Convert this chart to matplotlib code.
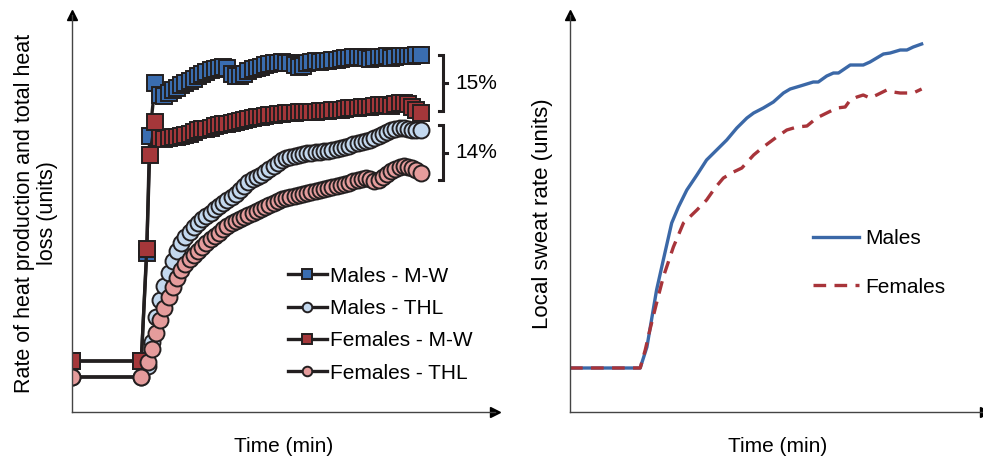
import matplotlib
matplotlib.use("Agg")
import matplotlib.pyplot as plt

plt.rcParams['font.family'] = ['Liberation Sans', 'DejaVu Sans']

# ---- left panel: heat production (M-W) and total heat loss (THL) ----
mw_time = [0, 16.5, 17.8, 18.5, 19.8, *range(21, 84)]
males_mw = [51, 51, 159, 276, 329,
            317, 316, 319, 322, 324, 327, 329, 331, 333, 336,
            338, 340, 342, 343, 344, 345, 344, 338, 336, 336,
            338, 341, 343, 344, 345, 347, 348, 349, 349, 350,
            349, 349, 347, 345, 346, 349, 350, 351, 350, 351,
            351, 352, 352, 353, 354, 354, 355, 355, 355, 354,
            353, 354, 355, 355, 356, 354, 355, 356, 356, 356,
            356, 357, 357]
females_mw = [51, 51, 163, 257, 290,
              274, 273, 274, 275, 275, 276, 277, 278, 280, 282,
              283, 283, 284, 286, 287, 288, 288, 289, 290, 291,
              292, 293, 294, 295, 295, 296, 297, 297, 298, 298,
              299, 299, 299, 300, 300, 300, 300, 300, 301, 301,
              301, 302, 302, 302, 303, 304, 304, 304, 305, 305,
              305, 306, 307, 307, 307, 306, 308, 309, 309, 308,
              305, 302, 299]

thl_time = [0, 16.5, *range(18, 84)]
males_thl = [35, 35,
             46, 70, 95, 112, 126, 139, 151, 161, 169, 175,
             180, 185, 189, 193, 196, 199, 203, 206, 209, 212,
             215, 218, 222, 226, 230, 233, 235, 237, 240, 243,
             246, 249, 252, 254, 255, 256, 257, 258, 259, 259,
             260, 260, 261, 261, 262, 263, 264, 265, 266, 268,
             269, 270, 271, 272, 274, 276, 278, 280, 282, 283,
             284, 284, 283, 282, 282, 282]
females_thl = [35, 35,
               50, 63, 79, 92, 104, 115, 125, 134, 142, 148,
               153, 157, 161, 165, 169, 173, 176, 179, 183, 186,
               189, 191, 193, 195, 197, 199, 201, 203, 205, 207,
               209, 211, 213, 214, 215, 216, 217, 218, 219, 220,
               221, 222, 223, 224, 225, 226, 227, 228, 229, 231,
               232, 233, 234, 233, 231, 232, 235, 238, 241, 243,
               245, 246, 245, 244, 242, 239]

mw_diff_label = "15%"
thl_diff_label = "14%"

# ---- right panel: local sweat rate ----
sweat_m_time = [0, 16.7, 18.3, 20.6, 22.2, 24.2, 25.8, 27.8, 30.2, 32.5, 34.9,
                37.3, 39.7, 42.1, 43.7, 46.0, 48.4, 50.8, 52.4, 54.8, 57.9,
                59.1, 61.1, 62.7, 63.9, 66.7, 69.8, 71.4, 74.6, 76.2, 78.6,
                80.2, 81.7, 83.7]
sweat_males = [44, 44, 65, 122, 152, 189, 205, 222, 237, 252, 262,
               272, 284, 294, 299, 304, 310, 319, 323, 326, 330,
               330, 336, 339, 339, 347, 347, 350, 358, 359, 362,
               362, 365, 368]
sweat_f_time = [0, 16.7, 17.9, 19.0, 20.6, 22.2, 24.6, 27.0, 30.2, 32.5, 34.5,
                36.5, 38.9, 40.9, 43.7, 46.0, 49.2, 51.6, 54.0, 56.4, 58.7,
                61.1, 63.5, 65.5, 66.7, 68.3, 69.8, 71.4, 73.0, 75.4, 76.9,
                78.6, 81.7, 83.7]
sweat_females = [44, 44, 62, 82, 109, 135, 165, 189, 202, 212, 224,
                 234, 240, 244, 257, 265, 275, 282, 285, 286, 294,
                 299, 304, 305, 312, 315, 317, 314, 317, 322, 320,
                 319, 319, 323]

FS = 15
LINE = '#231f20'

fig = plt.figure(figsize=(9.83, 4.59), dpi=100)
ax1 = fig.add_axes([0.0732, 0.1024, 0.4303, 0.8649])
ax2 = fig.add_axes([0.5799, 0.1024, 0.4222, 0.8649])

for ax in (ax1, ax2):
    for s in ('top', 'right'):
        ax.spines[s].set_visible(False)
    for s in ('left', 'bottom'):
        ax.spines[s].set_color('#444444')
        ax.spines[s].set_linewidth(1.0)
    ax.set_xticks([])
    ax.set_yticks([])
    ax.set_ylim(0, 397)
    ax.plot(1, 0, '>', color='black', ms=7, transform=ax.transAxes, clip_on=False)
    ax.plot(0, 1, '^', color='black', ms=7, transform=ax.transAxes, clip_on=False)
    ax.set_xlabel('Time (min)', fontsize=FS, labelpad=18)

ax1.set_xlim(0, 100.7)
ax2.set_xlim(0, 98.8)

style = dict(color=LINE, lw=2.4, markeredgecolor=LINE, markeredgewidth=1.4, ms=11.5)
ax1.plot(mw_time, males_mw, 's', markerfacecolor='#3a6db0', label='Males - M-W', ls='-', **style)
ax1.plot(thl_time, males_thl, 'o', markerfacecolor='#c3d8ee', label='Males - THL', ls='-', **style)
ax1.plot(mw_time, females_mw, 's', markerfacecolor='#a5373a', label='Females - M-W', ls='-', **style)
ax1.plot(thl_time, females_thl, 'o', markerfacecolor='#e59c9c', label='Females - THL', ls='-', **style)

ax1.legend(loc='upper left', bbox_to_anchor=(0.51, 0.366), frameon=False, fontsize=FS,
           handlelength=1.9, handletextpad=0.15, labelspacing=0.64, borderpad=0,
           borderaxespad=0, markerscale=0.6)


def bracket(ax, x, top, bottom, label):
    ax.plot([x - 1.0, x, x, x - 1.0], [top, top, bottom, bottom], color=LINE, lw=2.2,
            clip_on=False, solid_joinstyle='miter')
    mid = (top + bottom) / 2
    ax.plot([x, x + 1.0], [mid, mid], color=LINE, lw=2.2, clip_on=False)
    ax.text(x + 3.0, mid, label, fontsize=FS, va='center', ha='left', clip_on=False)


bracket(ax1, 88.3, males_mw[-1], females_mw[-1] + 2, mw_diff_label)
bracket(ax1, 88.3, males_thl[-1] + 5, females_thl[-1] - 7, thl_diff_label)

ax1.set_ylabel('Rate of heat production and total heat\nloss (units)', fontsize=15.5,
               labelpad=10, linespacing=1.15)

ax2.plot(sweat_m_time, sweat_males, color='#3b68a7', lw=2.4, label='Males')
ax2.plot(sweat_f_time, sweat_females, color='#a8343a', lw=2.4, ls=(0, (3.8, 2.5)),
         label='Females')
ax2.legend(loc='upper left', bbox_to_anchor=(0.585, 0.46), frameon=False, fontsize=FS,
           handlelength=2.2, handletextpad=0.3, labelspacing=1.4, borderpad=0,
           borderaxespad=0)
ax2.set_ylabel('Local sweat rate (units)', fontsize=16, labelpad=12)

fig.savefig('out.png', dpi=100)
